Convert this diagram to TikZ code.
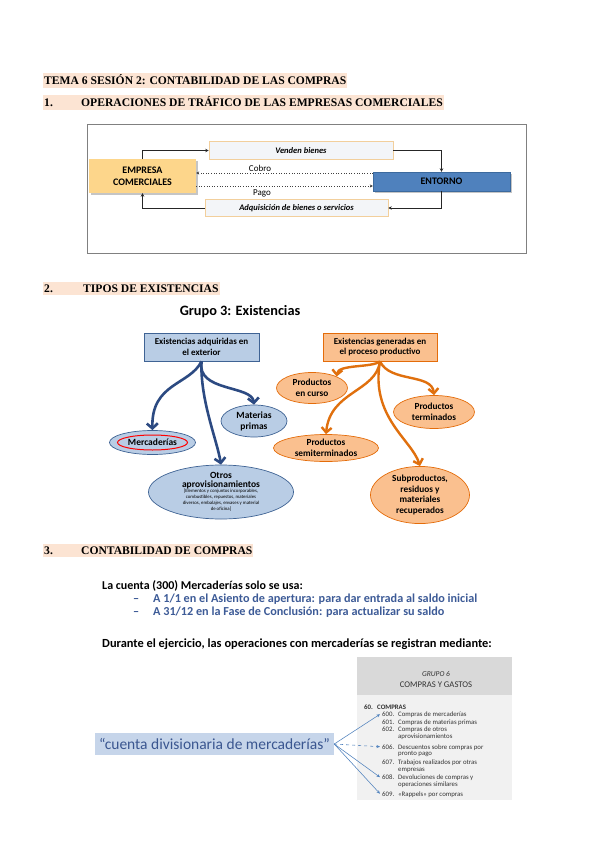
\documentclass[tikz,border=0pt]{standalone}
\usepackage{fontspec}
\setmainfont{Carlito}
\newfontfamily\serifb{Liberation Serif}
\usetikzlibrary{shapes.geometric,arrows.meta,shadows}
\definecolor{hl}{HTML}{FCE4D3}
\definecolor{empfill}{HTML}{FDD68B}
\definecolor{entfill}{HTML}{4F81BD}
\definecolor{entdraw}{HTML}{3C6A9E}
\definecolor{flowfill}{HTML}{F3F5F8}
\definecolor{flowdraw}{HTML}{F2CF9C}
\definecolor{bluefill}{HTML}{B9CDE5}
\definecolor{bluedraw}{HTML}{3F6394}
\definecolor{bluearrow}{HTML}{2C4A82}
\definecolor{orgfill}{HTML}{FAC08F}
\definecolor{orgdraw}{HTML}{E46C0A}
\definecolor{orgarrow}{HTML}{E0700E}
\definecolor{bultext}{HTML}{3D5B97}
\definecolor{g6head}{HTML}{D9D9D9}
\definecolor{g6body}{HTML}{F1F1F1}
\definecolor{g6text}{HTML}{333333}
\definecolor{divfill}{HTML}{C6D5EA}
\definecolor{divtext}{HTML}{3A5690}
\definecolor{thinblue}{HTML}{4F81BD}
\definecolor{framegray}{HTML}{808080}
\tikzset{
  heading/.style={anchor=base west, fill=hl, inner xsep=1pt, inner ysep=2.5pt,
    font=\serifb\bfseries\fontsize{11.6}{13}\selectfont},
  empbox/.style={fill=empfill, minimum width=107pt, minimum height=34pt, align=center,
    inner sep=0pt, font=\bfseries\fontsize{10}{12}\selectfont,
    drop shadow={shadow xshift=2pt, shadow yshift=-2pt, fill=black!45, opacity=.5}},
  entbox/.style={fill=entfill, draw=entdraw, minimum width=137pt, minimum height=19pt,
    inner sep=0pt, font=\bfseries\fontsize{10}{12}\selectfont,
    drop shadow={shadow xshift=2pt, shadow yshift=-2pt, fill=black!45, opacity=.5}},
  flowbox/.style={fill=flowfill, draw=flowdraw, line width=0.6pt, minimum height=17.5pt,
    inner sep=0pt, font=\itshape\bfseries\fontsize{8.5}{10}\selectfont},
  flow/.style={draw=black!85, line width=0.6pt, -{Stealth[length=3.5pt,width=3.5pt]}},
  dotflow/.style={draw=black!75, line width=0.6pt, dotted, -{Stealth[length=3pt,width=3pt]}},
  lbl/.style={font=\fontsize{9}{10}\selectfont, inner sep=0pt},
  bluebox/.style={fill=bluefill, draw=bluedraw, line width=0.7pt, minimum width=115pt,
    minimum height=28pt, inner sep=0pt, align=center, font=\bfseries\fontsize{9}{10.5}\selectfont},
  orgbox/.style={fill=orgfill, draw=orgdraw, line width=0.7pt, minimum width=114pt,
    minimum height=28pt, inner sep=0pt, align=center, font=\bfseries\fontsize{9}{10.5}\selectfont},
  bell/.style={ellipse, fill=bluefill, draw=bluedraw, line width=0.7pt, inner sep=0pt,
    align=center, font=\bfseries\fontsize{9.5}{11}\selectfont},
  oell/.style={ellipse, fill=orgfill, draw=orgdraw, line width=0.7pt, inner sep=0pt,
    align=center, font=\bfseries\fontsize{9.3}{10.8}\selectfont},
  barrow/.style={draw=bluearrow, line width=2.6pt, -{Straight Barb[length=5pt,width=11pt]}},
  oarrow/.style={draw=orgarrow, line width=2.4pt, -{Straight Barb[length=5pt,width=10pt]}},
  sbold/.style={anchor=base west, inner sep=0pt, font=\bfseries\fontsize{12}{14}\selectfont},
  bul/.style={anchor=base west, inner sep=0pt, text=bultext, font=\bfseries\fontsize{12.2}{14}\selectfont},
  g6/.style={anchor=base west, inner sep=0pt, text=g6text, font=\fontsize{6.8}{8}\selectfont},
  g6code/.style={anchor=base west, inner xsep=2pt, inner ysep=0pt, text=g6text, font=\fontsize{6.8}{8}\selectfont},
  thinarrow/.style={draw=thinblue, line width=0.55pt, -{Stealth[length=3.5pt,width=3pt]}}
}
\begin{document}
\begin{tikzpicture}[x=1pt,y=-1pt]
\useasboundingbox (0,0) rectangle (600,848);
\fill[white] (0,0) rectangle (600,848);

% ---------- headings ----------
\node[heading] (h0) at (43,85) {TEMA 6 SESIÓN 2: CONTABILIDAD DE LAS COMPRAS};
\node[heading] (h1) at (43,107) {\makebox[37pt][l]{1.}OPERACIONES DE TRÁFICO DE LAS EMPRESAS COMERCIALES};
\node[heading] (h2) at (43,292) {\makebox[39pt][l]{2.}TIPOS DE EXISTENCIAS};
\node[heading] (h3) at (43,554) {\makebox[37pt][l]{3.}CONTABILIDAD DE COMPRAS};

% ---------- section 1 ----------
\draw[framegray, line width=0.9pt] (87,124) rectangle (526,253);
\node[empbox] (emp) at (142.5,176) {EMPRESA\\COMERCIALES};
\node[entbox] (ent) at (441.5,181.5) {ENTORNO};
\node[flowbox, minimum width=184pt] (ven) at (301,150.5) {Venden bienes};
\node[flowbox, minimum width=183pt] (adq) at (296.5,208) {Adquisición de bienes o servicios};
\draw[flow] (emp.north) |- (ven.west);
\draw[flow] (ven.east) -| (ent.north);
\draw[flow] (ent.south) |- (adq.east);
\draw[flow] (adq.west) -| (emp.south);
\coordinate (ycobro) at (0,173);
\coordinate (ypago) at (0,186);
\draw[dotflow] (ent.west |- ycobro) -- (emp.east |- ycobro);
\draw[dotflow] (emp.east |- ypago) -- (ent.west |- ypago);
\node[lbl] (cobro) at (260,168) {Cobro};
\node[lbl] (pago) at (262,193) {Pago};

% ---------- section 2 ----------
\node[inner sep=0pt, font=\bfseries\fontsize{14.3}{16}\selectfont] (g3) at (240,312) {Grupo 3: Existencias};
\node[bluebox] (ext) at (201.5,347) {Existencias adquiridas en\\el exterior};
\node[orgbox] (gen) at (380,347) {Existencias generadas en\\el proceso productivo};

\node[bell, minimum width=86pt, minimum height=24pt] (merc) at (152.5,442.5) {Mercaderías};
\node[ellipse, draw=red, line width=1pt, minimum width=70pt, minimum height=15pt, inner sep=0pt] (mercin) at (merc.center) {};
\node[bell, minimum width=66pt, minimum height=32pt] (mat) at (254,421) {Materias\\primas};
\node[bell, minimum width=145pt, minimum height=54pt] (otros) at (221,492) {};
\node[inner sep=0pt, align=center, font=\bfseries\fontsize{9.5}{11}\selectfont] (otrostxt) at (otros.center)
  {Otros\\[-1.5pt]aprovisionamientos\\[-1.5pt]
   {\mdseries\fontsize{4.8}{5.7}\selectfont\begin{tabular}{@{}c@{}}
   [Elementos y conjuntos incorporables,\\
   combustibles, repuestos, materiales\\
   diversos, embalajes, envases y material\\
   de oficina]\end{tabular}}};

\node[oell, minimum width=71pt, minimum height=31pt] (curso) at (312,388) {Productos\\en curso};
\node[oell, minimum width=81pt, minimum height=33pt] (term) at (434,412) {Productos\\terminados};
\node[oell, minimum width=105pt, minimum height=27pt] (semi) at (326,448) {Productos\\semiterminados};
\node[oell, minimum width=99pt, minimum height=57pt] (sub) at (420,495) {Subproductos,\\residuos y\\materiales\\recuperados};

\draw[barrow] (ext.south) .. controls (190,385) and (151,383) .. (merc.north);
\draw[barrow] (ext.south) .. controls (196,392) and (252,385) .. (mat.north);
\draw[barrow] (ext.south) .. controls (200,400) and (217,440) .. (otros.north);

\draw[oarrow] (gen.south) .. controls (372,368) and (338,364) .. (curso.25);
\draw[oarrow] (gen.south) .. controls (390,383) and (432,373) .. (term.north);
\draw[oarrow] (gen.south) .. controls (376,392) and (330,391) .. (semi.north);
\draw[oarrow] (gen.south) .. controls (370,417) and (412,440) .. (sub.north);

% ---------- section 3 ----------
\node[sbold] (cuenta) at (102,589) {La cuenta (300) Mercaderías solo se usa:};
\node[bul] (d1) at (133,602) {–};
\node[bul] (b1) at (153,602) {A 1/1 en el Asiento de apertura: para dar entrada al saldo inicial};
\node[bul] (d2) at (133,615) {–};
\node[bul] (b2) at (153,615) {A 31/12 en la Fase de Conclusión: para actualizar su saldo};
\node[sbold, font=\bfseries\fontsize{12.4}{14}\selectfont] (durante) at (102,647) {Durante el ejercicio, las operaciones con mercaderías se registran mediante:};

% Grupo 6 panel
\fill[g6body] (357,657) rectangle (512,800);
\fill[g6head] (357,657) rectangle (512,695);
\node[inner sep=0pt, text=g6text, font=\itshape\fontsize{7.5}{8}\selectfont] (g6a) at (436,674) {GRUPO 6};
\node[inner sep=0pt, text=g6text, font=\fontsize{8.7}{9}\selectfont] (g6b) at (436,685) {COMPRAS Y GASTOS};
\node[g6, font=\bfseries\fontsize{6.8}{8}\selectfont] (c60) at (364,709) {60.};
\node[g6, font=\bfseries\fontsize{6.8}{8}\selectfont] (c60t) at (377,709) {COMPRAS};
\node[g6code] (c600) at (380,716.5) {600.};
\node[g6] (t600) at (398,716.5) {Compras de mercaderías};
\node[g6code] (c601) at (380,724) {601.};
\node[g6] (t601) at (398,724) {Compras de materias primas};
\node[g6code] (c602) at (380,731.5) {602.};
\node[g6] (t602) at (398,731.5) {Compras de otros};
\node[g6] (t602b) at (398,738.5) {aprovisionamientos};
\node[g6code] (c606) at (380,749) {606.};
\node[g6] (t606) at (398,749) {Descuentos sobre compras por};
\node[g6] (t606b) at (398,755.5) {pronto pago};
\node[g6code] (c607) at (380,764) {607.};
\node[g6] (t607) at (398,764) {Trabajos realizados por otras};
\node[g6] (t607b) at (398,771) {empresas};
\node[g6code] (c608) at (380,779.5) {608.};
\node[g6] (t608) at (398,779.5) {Devoluciones de compras y};
\node[g6] (t608b) at (398,786.5) {operaciones similares};
\node[g6code] (c609) at (380,796) {609.};
\node[g6] (t609) at (398,796) {«Rappels» por compras};

\node[fill=divfill, minimum width=239pt, minimum height=22pt, inner sep=0pt, text=divtext,
  font=\fontsize{15.5}{17}\selectfont] (div) at (214.5,744) {“cuenta divisionaria de mercaderías”};

\draw[thinarrow] (div.east) -- (c600.west);
\draw[thinarrow, dashed] (div.east) -- (c606.west);
\draw[thinarrow] (div.east) -- (c608.west);
\draw[thinarrow] (div.east) -- (c609.west);
\end{tikzpicture}
\end{document}
